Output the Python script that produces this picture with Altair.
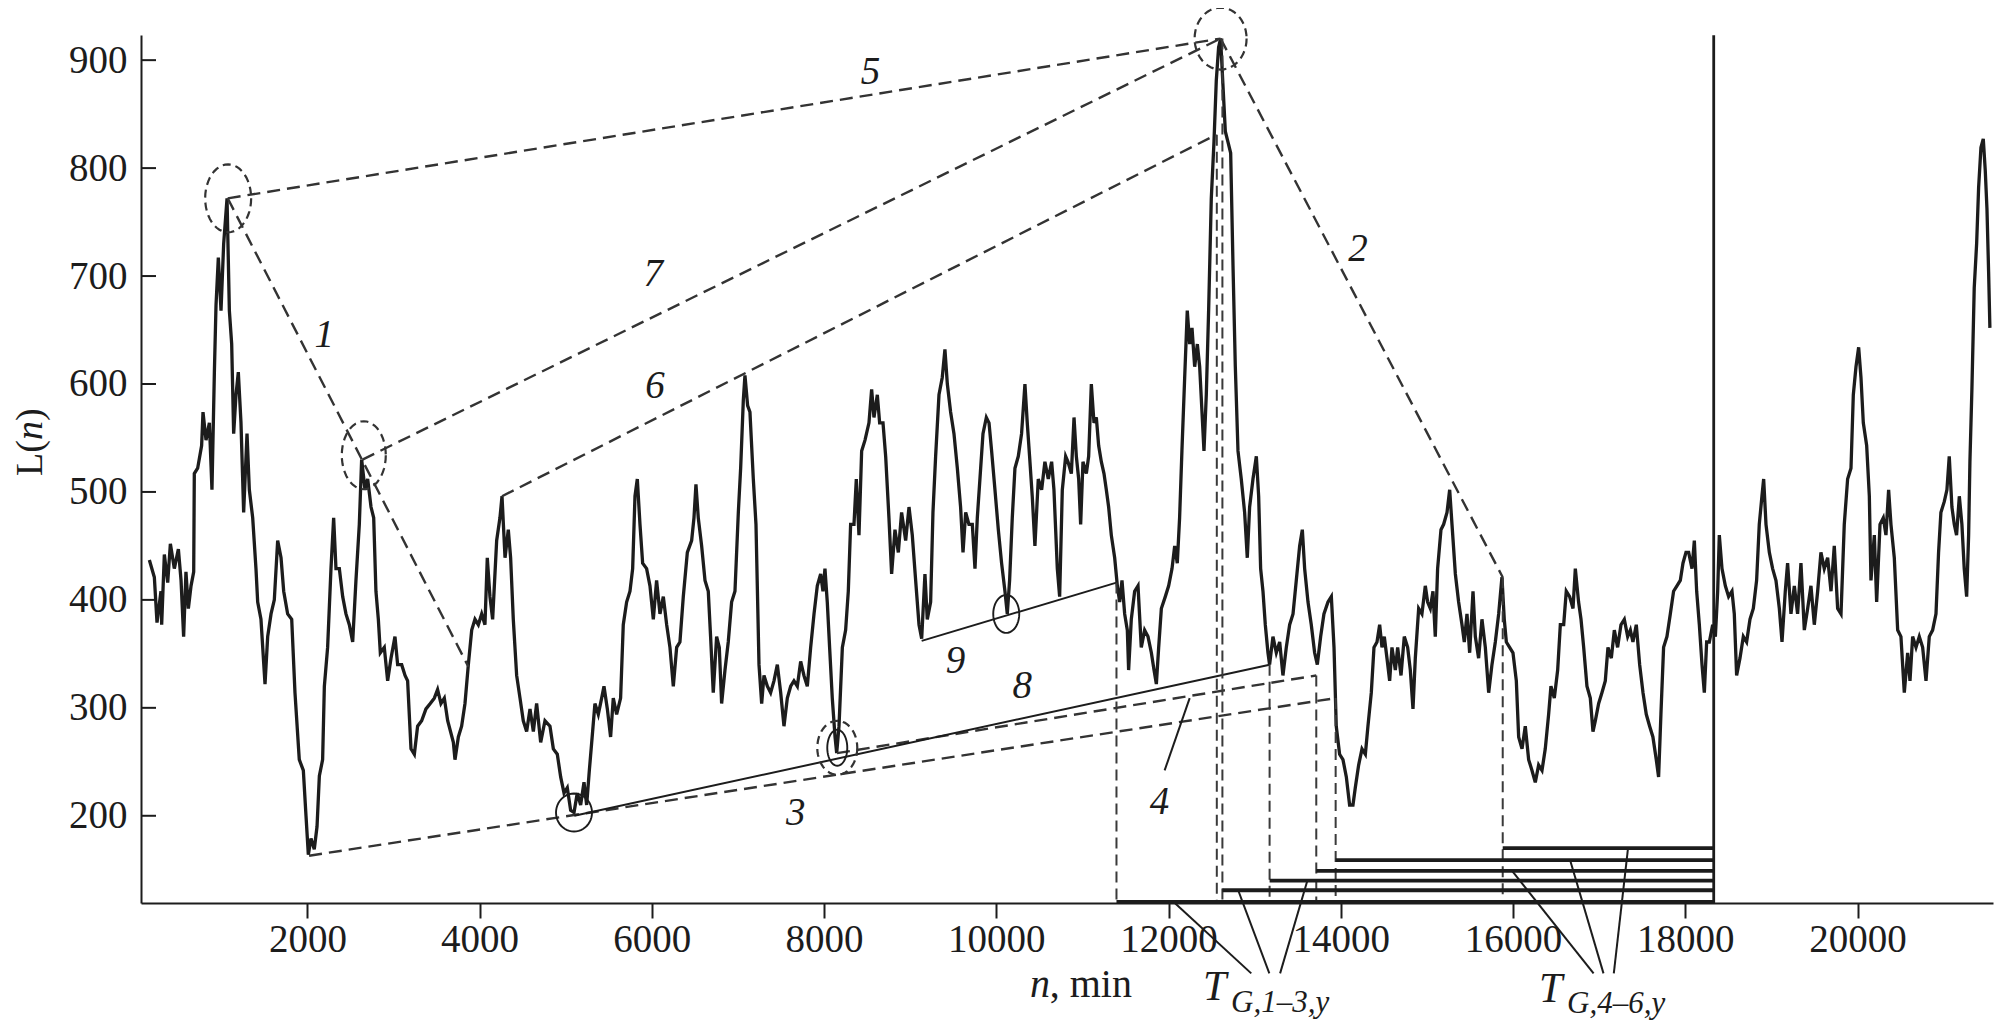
import math
import altair as alt
import pandas as pd

# ---------------- data ----------------
n_vals = [
165, 223, 254, 300, 308, 339, 378, 409, 455, 502, 533, 563, 590, 618, 649, 680, 687, 726, 772, 788,
823, 862, 892, 920, 939, 966, 997, 1028, 1067, 1094, 1121, 1144, 1171, 1198, 1229, 1260, 1299, 1326, 1365, 1403,
1423, 1461, 1508, 1539, 1578, 1616, 1655, 1694, 1725, 1771, 1818, 1856, 1906, 1953, 1984, 2011, 2042, 2080, 2112, 2139,
2177, 2197, 2235, 2274, 2305, 2332, 2371, 2410, 2448, 2487, 2526, 2564, 2603, 2630, 2669, 2700, 2739, 2770, 2796, 2824,
2847, 2893, 2932, 2971, 3017, 3048, 3095, 3134, 3164, 3203, 3242, 3280, 3327, 3377, 3427, 3474, 3512, 3551, 3590, 3629,
3695, 3714, 3753, 3791, 3830, 3869, 3908, 3946, 3985, 4024, 4062, 4089, 4120, 4151, 4198, 4236, 4260, 4295, 4333, 4360,
4391, 4430, 4469, 4507, 4546, 4585, 4624, 4662, 4709, 4759, 4817, 4856, 4902, 4941, 4980, 5018, 5057, 5096, 5134, 5173,
5212, 5243, 5274, 5312, 5339, 5378, 5417, 5444, 5483, 5521, 5552, 5591, 5637, 5668, 5707, 5746, 5777, 5804, 5831, 5862,
5893, 5939, 5978, 6017, 6055, 6094, 6133, 6172, 6210, 6249, 6288, 6326, 6365, 6412, 6462, 6489, 6512, 6539, 6578, 6617,
6655, 6682, 6713, 6752, 6783, 6810, 6849, 6887, 6926, 6965, 7004, 7031, 7062, 7081, 7112, 7139, 7178, 7209, 7244, 7275,
7302, 7341, 7379, 7418, 7457, 7496, 7534, 7573, 7612, 7650, 7689, 7728, 7766, 7805, 7844, 7883, 7921, 7960, 7987, 8010,
8037, 8064, 8095, 8127, 8146, 8173, 8212, 8250, 8281, 8308, 8347, 8374, 8405, 8436, 8475, 8521, 8552, 8579, 8618, 8645,
8684, 8715, 8753, 8784, 8823, 8862, 8900, 8947, 8986, 9024, 9063, 9102, 9133, 9171, 9198, 9237, 9264, 9295, 9334, 9372,
9403, 9431, 9469, 9508, 9547, 9585, 9613, 9644, 9682, 9721, 9752, 9779, 9818, 9845, 9884, 9915, 9945, 9984, 10023, 10061,
10100, 10127, 10154, 10185, 10216, 10255, 10293, 10332, 10359, 10386, 10417, 10448, 10487, 10526, 10564, 10603, 10642, 10669, 10708, 10735,
10766, 10805, 10832, 10871, 10902, 10929, 10956, 10979, 11006, 11045, 11072, 11103, 11134, 11161, 11188, 11219, 11250, 11277, 11304, 11335,
11374, 11405, 11432, 11459, 11490, 11521, 11536, 11567, 11606, 11645, 11683, 11722, 11761, 11800, 11831, 11858, 11885, 11916, 11962, 12001,
12040, 12071, 12101, 12128, 12155, 12187, 12217, 12245, 12272, 12303, 12334, 12361, 12388, 12411, 12438, 12465, 12496, 12527, 12554, 12581,
12604, 12632, 12659, 12690, 12721, 12748, 12775, 12806, 12844, 12883, 12914, 12941, 12980, 13019, 13046, 13069, 13096, 13123, 13154, 13173,
13212, 13251, 13290, 13328, 13367, 13406, 13445, 13483, 13522, 13553, 13580, 13619, 13657, 13696, 13727, 13766, 13804, 13851, 13890, 13921,
13947, 13986, 14025, 14064, 14102, 14141, 14168, 14207, 14246, 14285, 14315, 14354, 14385, 14420, 14451, 14478, 14505, 14536, 14567, 14594,
14633, 14660, 14699, 14737, 14776, 14807, 14838, 14865, 14904, 14942, 14981, 15008, 15039, 15070, 15097, 15124, 15163, 15194, 15233, 15264,
15291, 15330, 15368, 15407, 15434, 15465, 15496, 15535, 15562, 15600, 15639, 15678, 15717, 15755, 15794, 15833, 15871, 15898, 15922, 15960,
15999, 16038, 16065, 16104, 16142, 16181, 16220, 16258, 16297, 16336, 16374, 16413, 16440, 16479, 16518, 16549, 16588, 16618, 16657, 16696,
16723, 16761, 16789, 16820, 16858, 16897, 16928, 16955, 16994, 17032, 17071, 17102, 17141, 17176, 17214, 17253, 17292, 17331, 17362, 17392,
17431, 17470, 17509, 17547, 17586, 17624, 17663, 17690, 17717, 17748, 17787, 17826, 17864, 17903, 17942, 17973, 18008, 18039, 18078, 18105,
18132, 18163, 18194, 18221, 18248, 18279, 18318, 18349, 18376, 18395, 18426, 18465, 18503, 18542, 18569, 18596, 18635, 18674, 18712, 18751,
18790, 18828, 18859, 18890, 18910, 18937, 18976, 19014, 19053, 19092, 19123, 19161, 19188, 19227, 19266, 19304, 19343, 19382, 19421, 19459,
19498, 19537, 19575, 19614, 19653, 19692, 19730, 19769, 19808, 19846, 19885, 19924, 19951, 19982, 20013, 20040, 20067, 20106, 20137, 20156,
20195, 20222, 20261, 20299, 20330, 20361, 20388, 20427, 20466, 20504, 20543, 20582, 20609, 20640, 20679, 20717, 20756, 20795, 20833, 20872,
20911, 20941, 20968, 21007, 21038, 21065, 21096, 21123, 21150, 21182, 21212, 21239, 21267, 21290, 21305, 21328, 21355, 21383, 21406, 21433,
21460, 21483, 21503, 21522, 21537,
]
L_vals = [
437, 421, 379, 408, 377, 442, 416, 452, 429, 447, 418, 366, 426, 392, 413, 426, 517, 522, 543, 574,
548, 564, 502, 611, 673, 717, 668, 730, 772, 668, 637, 554, 590, 611, 564, 481, 554, 502, 476, 429,
398, 382, 322, 366, 387, 400, 455, 439, 408, 387, 382, 314, 252, 242, 200, 164, 179, 169, 190, 237,
252, 320, 356, 429, 476, 429, 429, 403, 387, 377, 361, 418, 470, 530, 502, 512, 486, 476, 408, 382,
351, 356, 325, 346, 366, 340, 340, 330, 325, 262, 257, 283, 288, 299, 304, 309, 317, 304, 309, 288,
268, 252, 273, 283, 304, 340, 372, 382, 377, 387, 377, 439, 403, 382, 455, 476, 496, 439, 465, 439,
382, 330, 309, 288, 278, 299, 278, 304, 268, 288, 283, 262, 257, 236, 221, 226, 205, 203, 221, 210,
231, 210, 242, 278, 304, 294, 309, 320, 299, 273, 309, 294, 309, 377, 398, 408, 429, 496, 512, 470,
434, 429, 413, 382, 418, 387, 403, 377, 356, 320, 356, 361, 403, 444, 455, 476, 507, 476, 450, 418,
408, 366, 314, 366, 356, 304, 335, 361, 398, 408, 481, 522, 585, 608, 580, 574, 512, 470, 340, 304,
330, 320, 314, 325, 340, 314, 283, 309, 320, 325, 320, 343, 330, 320, 356, 387, 413, 424, 408, 429,
398, 356, 309, 273, 258, 283, 356, 372, 408, 470, 470, 512, 460, 538, 548, 564, 595, 569, 590, 564,
564, 533, 476, 424, 465, 444, 481, 455, 486, 460, 418, 377, 364, 424, 382, 398, 481, 533, 590, 606,
632, 600, 574, 554, 522, 486, 444, 481, 470, 470, 429, 476, 522, 554, 569, 564, 538, 502, 465, 434,
408, 387, 418, 476, 522, 533, 554, 600, 564, 533, 496, 450, 512, 502, 528, 512, 528, 502, 429, 403,
502, 533, 528, 517, 569, 533, 512, 470, 528, 517, 533, 600, 564, 569, 543, 528, 517, 502, 486, 460,
439, 413, 398, 418, 387, 372, 335, 382, 408, 413, 356, 372, 366, 351, 335, 322, 356, 392, 403, 413,
429, 450, 434, 476, 538, 606, 668, 637, 652, 616, 637, 616, 574, 538, 590, 668, 772, 824, 881, 912,
920, 876, 834, 824, 814, 710, 616, 538, 512, 481, 439, 486, 512, 533, 496, 429, 408, 377, 351, 340,
366, 351, 361, 330, 356, 377, 387, 418, 450, 465, 429, 398, 377, 351, 340, 366, 387, 398, 403, 356,
283, 257, 252, 236, 210, 210, 226, 247, 262, 257, 283, 314, 356, 361, 377, 356, 366, 346, 325, 356,
335, 356, 330, 366, 356, 335, 299, 346, 392, 387, 413, 398, 392, 408, 366, 429, 465, 470, 481, 502,
470, 424, 398, 377, 361, 387, 351, 408, 366, 346, 382, 356, 314, 340, 361, 387, 421, 382, 361, 356,
351, 325, 273, 262, 283, 252, 242, 231, 247, 242, 262, 294, 320, 309, 335, 377, 377, 408, 403, 392,
429, 398, 382, 356, 320, 309, 278, 288, 304, 314, 325, 356, 346, 372, 356, 377, 382, 366, 372, 361,
377, 340, 314, 294, 283, 273, 252, 236, 294, 356, 366, 387, 408, 413, 418, 434, 444, 444, 429, 455,
408, 377, 340, 314, 361, 361, 377, 366, 408, 460, 429, 413, 403, 408, 387, 330, 346, 366, 361, 382,
392, 418, 470, 496, 512, 470, 444, 429, 418, 392, 361, 408, 434, 387, 413, 387, 434, 372, 392, 413,
377, 408, 444, 429, 439, 408, 450, 392, 387, 470, 512, 522, 590, 616, 634, 606, 564, 543, 496, 418,
460, 398, 470, 476, 460, 502, 470, 439, 372, 366, 314, 351, 325, 366, 356, 366, 356, 325, 366, 372,
387, 444, 481, 491, 502, 533, 486, 470, 460, 496, 470, 429, 403, 460, 528, 595, 689, 730, 782, 819,
827, 798, 762, 704, 652,
]

x_ticks = [2000, 4000, 6000, 8000, 10000, 12000, 14000, 16000, 18000, 20000]
y_ticks = [200, 300, 400, 500, 600, 700, 800, 900]

# dashed construction lines 1, 5, 7, 6, 2, 3, 4
dash_x1 = [1075, 1075, 2640, 4260, 12604, 2020, 8150]
dash_y1 = [772, 772, 530, 496, 920, 163, 258]
dash_x2 = [3870, 12604, 12604, 12555, 15880, 13940, 13715]
dash_y2 = [338, 920, 920, 831, 421, 309, 330]

# solid construction lines 8, 9
solid_x1 = [5100, 9133]
solid_y1 = [200, 362]
solid_x2 = [13173, 11395]
solid_y2 = [340, 416]

# leader lines (label 4, T_G,1-3,y, T_G,4-6,y)
lead_x1 = [12245, 12960, 13170, 13295, 16935, 17050, 17170]
lead_y1 = [309, 54, 54, 54, 54, 54, 54]
lead_x2 = [11954, 12075, 12808, 13612, 15989, 16662, 17335]
lead_y2 = [242, 119, 131, 140, 149, 159, 170]

# vertical dashed drops
drop_n = [11395, 12560, 12625, 13173, 13715, 13940, 15880]
drop_top = [416, 831, 920, 340, 330, 309, 421]
drop_bottom = 120

# horizontal bars ending at the solid vertical line
bar_start = [11395, 12625, 13173, 13715, 13940, 15880]
bar_level = [120.3, 131, 140, 149, 159, 170]
bar_end = 18330
vline_n = 18330
vline_top = 923

# ellipses around marked points: centre, radii (px), dashed?
ell_n = [1080, 2655, 12604, 8153, 5096, 8153, 10115]
ell_v = [772, 534, 920, 263, 203, 263, 387]
ell_rx = [23, 22, 26, 20, 18, 10, 13]
ell_ry = [34, 34, 31, 27, 19, 18, 19]
ell_dashed = [True, True, True, True, False, False, False]

# italic number labels
lab_text = ["1", "2", "3", "4", "5", "6", "7", "8", "9"]
lab_n = [2197, 14199, 7670, 11896, 8540, 6036, 6017, 10301, 9527]
lab_v = [645, 725, 203, 213, 889, 598, 702, 320, 343]

# ---------------- chart ----------------
FONT = "Liberation Serif"
INK = "#1c1c1c"
DASH = "#333333"

xs = alt.Scale(domain=[68, 21573], nice=False, zero=False)
ys = alt.Scale(domain=[119.2, 923.3], nice=False, zero=False)

X_AX = alt.Axis(
    values=x_ticks, format="d", title=None, grid=False,
    labelFont=FONT, labelFontSize=39, labelColor=INK,
    tickSize=15, tickWidth=2, tickColor=INK,
    domainColor=INK, domainWidth=2, labelPadding=2, labelFlush=False,
)
Y_AX = alt.Axis(
    values=y_ticks, format="d", title=None, grid=False,
    labelFont=FONT, labelFontSize=39, labelColor=INK,
    ticks=False, tickSize=0, labelPadding=14,
    domainColor=INK, domainWidth=2,
)


def X(f):
    return alt.X(f, scale=xs, axis=X_AX)


def Y(f):
    return alt.Y(f, scale=ys, axis=Y_AX)


def seg_df(x1, y1, x2, y2):
    return pd.DataFrame({"x1": x1, "y1": y1, "x2": x2, "y2": y2})


def seg_enc(ch):
    return ch.encode(x=X("x1:Q"), y=Y("y1:Q"), x2="x2:Q", y2="y2:Q")


series = pd.DataFrame({"n": n_vals, "L": L_vals})
line = alt.Chart(series).mark_line(color=INK, strokeWidth=3.3).encode(x=X("n:Q"), y=Y("L:Q"))

ytick_layer = alt.Chart(pd.DataFrame({"v": y_ticks})).mark_rule(color=INK, strokeWidth=2).encode(
    y=Y("v:Q"), x=alt.value(0), x2=alt.value(15)
)

dashed = seg_enc(alt.Chart(seg_df(dash_x1, dash_y1, dash_x2, dash_y2)).mark_rule(
    color=DASH, strokeWidth=2.4, strokeDash=[13, 7]))
solid = seg_enc(alt.Chart(seg_df(solid_x1, solid_y1, solid_x2, solid_y2)).mark_rule(
    color=INK, strokeWidth=2))
leaders = seg_enc(alt.Chart(seg_df(lead_x1, lead_y1, lead_x2, lead_y2)).mark_rule(
    color=INK, strokeWidth=2))

drops = alt.Chart(pd.DataFrame({"n": drop_n, "top": drop_top, "bot": [drop_bottom] * len(drop_n)})).mark_rule(
    color="#3a3a3a", strokeWidth=2, strokeDash=[11, 6]).encode(
    x=X("n:Q"), y=Y("top:Q"), y2="bot:Q")

bars = alt.Chart(pd.DataFrame({"s": bar_start, "lv": bar_level, "e": [bar_end] * len(bar_start)})).mark_rule(
    color=INK, strokeWidth=3.8).encode(
    x=X("s:Q"), x2="e:Q", y=Y("lv:Q"))

vline = alt.Chart(pd.DataFrame({"n": [vline_n], "a": [119.2], "b": [vline_top]})).mark_rule(
    color=INK, strokeWidth=2.8).encode(
    x=X("n:Q"), y=Y("a:Q"), y2="b:Q")


def ellipse_path(rx, ry, k=48):
    m = max(rx, ry)
    pts = []
    for i in range(k):
        t = 2 * math.pi * i / k
        pts.append(f"{rx / m * math.cos(t):.4f},{ry / m * math.sin(t):.4f}")
    return "M" + " L".join(pts) + " Z"


ellipses = []
for cn, cv, rx, ry, dsh in zip(ell_n, ell_v, ell_rx, ell_ry, ell_dashed):
    m = max(rx, ry)
    kw = dict(shape=ellipse_path(rx, ry), size=(2 * m) ** 2, filled=False, opacity=1,
              color=DASH if dsh else INK, strokeWidth=2.2 if dsh else 1.9)
    if dsh:
        kw["strokeDash"] = [8, 5]
    ellipses.append(
        alt.Chart(pd.DataFrame({"n": [cn], "v": [cv]})).mark_point(**kw).encode(
            x=X("n:Q"), y=Y("v:Q"))
    )

labels = alt.Chart(pd.DataFrame({"t": lab_text, "n": lab_n, "v": lab_v})).mark_text(
    font=FONT, fontStyle="italic", fontSize=39, color=INK, align="center", baseline="middle").encode(
    x=X("n:Q"), y=Y("v:Q"), text="t:N")


def txt(t, n, v, size, italic, align="left", baseline="alphabetic", angle=None):
    kw = dict(font=FONT, fontSize=size, color=INK, align=align, baseline=baseline)
    if italic:
        kw["fontStyle"] = "italic"
    if angle is not None:
        kw["angle"] = angle
    return alt.Chart(pd.DataFrame({"t": [t], "n": [n], "v": [v]})).mark_text(**kw).encode(
        x=X("n:Q"), y=Y("v:Q"), text="t:N")


texts = [
    txt("n", 10391, 32.2, 40, True),
    txt(", min", 10620, 32.2, 40, False),
    txt("T", 12401, 29.4, 42, True),
    txt("G,1–3,y", 12726, 18.3, 31, True),
    txt("T", 16302, 27.5, 42, True),
    txt("G,4–6,y", 16627, 17.4, 31, True),
    txt("L(", -1215, 514.8, 38, False, baseline="middle", angle=270),
    txt("n", -1215, 548.2, 38, True, baseline="middle", angle=270),
    txt(")", -1215, 565.8, 38, False, baseline="middle", angle=270),
]

chart = alt.layer(
    line, ytick_layer, dashed, solid, leaders, drops, bars, vline, *ellipses, labels, *texts
).properties(
    width=1852,
    height=868,
    padding={"left": 133, "top": 27, "right": 4, "bottom": 126},
    autosize=alt.AutoSizeParams(type="none"),
    background="white",
).configure_view(stroke=None)

chart.save("out.html", embed_options={"renderer": "svg", "actions": False})
